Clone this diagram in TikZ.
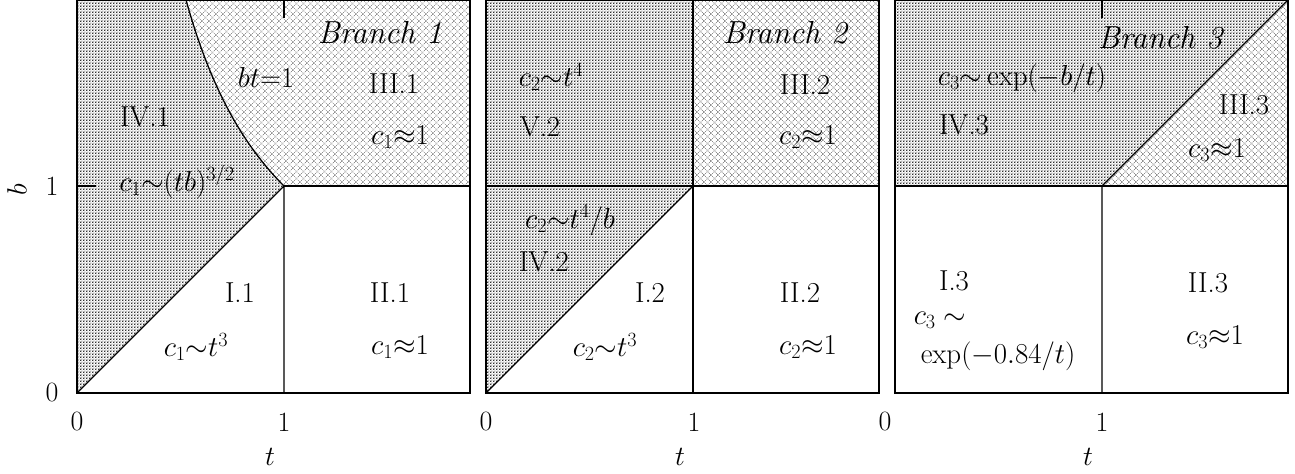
\RequirePackage{fix-cm}
\documentclass[tikz,border=0pt]{standalone}
\usepackage{fontspec}
\usetikzlibrary{patterns.meta}
\tikzdeclarepattern{
  name=densedots,
  type=uncolored,
  bounding box={(0pt,0pt) and (3.4pt,3.4pt)},
  tile size={(3.4pt,3.4pt)},
  code={
    \pgfpathrectangle{\pgfqpoint{0.2pt}{0.2pt}}{\pgfqpoint{1.3pt}{1.3pt}}
    \pgfpathrectangle{\pgfqpoint{1.9pt}{1.9pt}}{\pgfqpoint{0.9pt}{0.9pt}}
    \pgfusepath{fill}
  }
}
\tikzdeclarepattern{
  name=sparsecross,
  type=uncolored,
  bounding box={(0pt,0pt) and (7pt,7pt)},
  tile size={(7pt,7pt)},
  code={
    \pgfsetlinewidth{0.4pt}
    \pgfsetdash{{0.8pt}{1.0pt}}{0pt}
    \pgfpathmoveto{\pgfqpoint{0pt}{0pt}}\pgfpathlineto{\pgfqpoint{7pt}{7pt}}
    \pgfpathmoveto{\pgfqpoint{0pt}{7pt}}\pgfpathlineto{\pgfqpoint{7pt}{0pt}}
    \pgfusepath{stroke}
  }
}
\tikzset{
  lab/.style={font=\fontsize{29}{34}\selectfont, inner sep=0pt},
  num/.style={font=\fontsize{28}{32}\selectfont, inner sep=0pt},
  branch/.style={font=\fontsize{32}{36}\selectfont\itshape\addfontfeature{LetterSpace=18}, inner sep=0pt},
  frame/.style={line width=1.9bp},
  bound/.style={line width=1.3bp},
  dense/.style={pattern={densedots}, pattern color=black!80},
  sparse/.style={pattern={sparsecross}, pattern color=black!60},
}
\begin{document}
\begin{tikzpicture}[x=1bp,y=1bp]
\useasboundingbox (0,0) rectangle (1295,474);
% ---------------- Panel 1 ----------------
\begin{scope}[shift={(77bp,81bp)},x=207bp,y=207bp]
  \fill[dense] (0,0) -- (1,1) -- plot[domain=1:0.5263,samples=40] (\x,{1/\x}) -- (0,1.9) -- cycle;
  \fill[sparse] (0.5263,1.9) -- plot[domain=0.5263:1,samples=40] (\x,{1/\x}) -- (1.9,1) -- (1.9,1.9) -- cycle;
  \draw[bound] (0,0) -- (1,1) -- (1,0);
  \draw[bound] plot[domain=1:0.5263,samples=40] (\x,{1/\x});
  \draw[bound] (1,1) -- (1.9,1);
  \draw[bound] (1,1.9) -- (1,1.81);
  \draw[bound] (0,1) -- (0.09,1);
  \draw[frame] (0,0) rectangle (1.9,1.9);
\end{scope}
% ---------------- Panel 2 ----------------
\begin{scope}[shift={(486bp,81bp)},x=207bp,y=207bp]
  \fill[dense] (0,1) rectangle (1,1.9);
  \fill[sparse] (1,1) rectangle (1.9,1.9);
  \fill[dense] (0,0) -- (1,1) -- (0,1) -- cycle;
  \draw[bound] (0,0) -- (1,1);
  \draw[bound] (1,0) -- (1,1.9);
  \draw[bound] (0,1) -- (1.9,1);
  \draw[frame] (0,0) rectangle (1.9,1.9);
\end{scope}
% ---------------- Panel 3 ----------------
\begin{scope}[shift={(895bp,81bp)},x=207bp,y=207bp]
  \fill[dense] (0,1) -- (1,1) -- (1.9,1.9) -- (0,1.9) -- cycle;
  \fill[sparse] (1,1) -- (1.9,1) -- (1.9,1.9) -- cycle;
  \draw[bound] (1,0) -- (1,1) -- (1.9,1.9);
  \draw[bound] (0,1) -- (1.9,1);
  \draw[bound] (1,1.9) -- (1,1.81);
  \draw[frame] (0,0) rectangle (1.9,1.9);
\end{scope}
% ---------------- Labels panel 1 ----------------
\node[branch] (br1) at (380,441) {Branch 1};
\node[lab] (bt) at (266,397) {$bt{=}1$};
\node[lab] (r31) at (394,390) {III.1};
\node[lab] (c31) at (400,337) {$c_1{\approx}1$};
\node[lab] (r41) at (145,357) {IV.1};
\node[lab] (c41) at (177,292) {$c_1{\sim}(tb)^{3/2}$};
\node[lab] (r11) at (240,181) {I.1};
\node[lab] (c11) at (196,127) {$c_1{\sim}t^3$};
\node[lab] (r21) at (390,181) {II.1};
\node[lab] (c21) at (400,127) {$c_1{\approx}1$};
\node[num] (x01) at (77,52) {0};
\node[num] (x11) at (284,52) {1};
\node[num] (t1) at (270,17) {$t$};
\node[num] (y0) at (52,81) {0};
\node[num] (y1) at (52,288) {1};
\node[num,rotate=90] (bl) at (17,284) {$b$};
% ---------------- Labels panel 2 ----------------
\node[branch] (br2) at (785,441) {Branch 2};
\node[lab] (c52) at (551,397) {$c_2{\sim}t^4$};
\node[lab] (r52) at (540,347) {V.2};
\node[lab] (r32) at (805,389) {III.2};
\node[lab] (c32) at (808,337) {$c_2{\approx}1$};
\node[lab] (c42) at (570,254) {$c_2{\sim}t^4/b$};
\node[lab] (r42) at (544,212) {IV.2};
\node[lab] (r12) at (650,181) {I.2};
\node[lab] (c12) at (605,127) {$c_2{\sim}t^3$};
\node[lab] (r22) at (800,181) {II.2};
\node[lab] (c22) at (808,127) {$c_2{\approx}1$};
\node[num] (x02) at (486,52) {0};
\node[num] (x12) at (694,52) {1};
\node[num] (t2) at (680,17) {$t$};
% ---------------- Labels panel 3 ----------------
\node[branch] (br3) at (1160,436) {Branch 3};
\node[lab] (c43) at (1022,396) {$c_3{\sim}\exp(-b/t)$};
\node[lab] (r43) at (964,349) {IV.3};
\node[lab] (r33) at (1244,369) {III.3};
\node[lab] (c33) at (1217,324) {$c_3{\approx}1$};
\node[lab] (r13) at (954,193) {I.3};
\node[lab] (c13a) at (940,154) {$c_3\sim$};
\node[lab] (c13b) at (998,118) {$\exp(-0.84/t)$};
\node[lab] (r23) at (1208,191) {II.3};
\node[lab] (c23) at (1215,137) {$c_3{\approx}1$};
\node[num] (x03) at (885,52) {0};
\node[num] (x13) at (1102,52) {1};
\node[num] (t3) at (1088,17) {$t$};
\end{tikzpicture}
\end{document}
